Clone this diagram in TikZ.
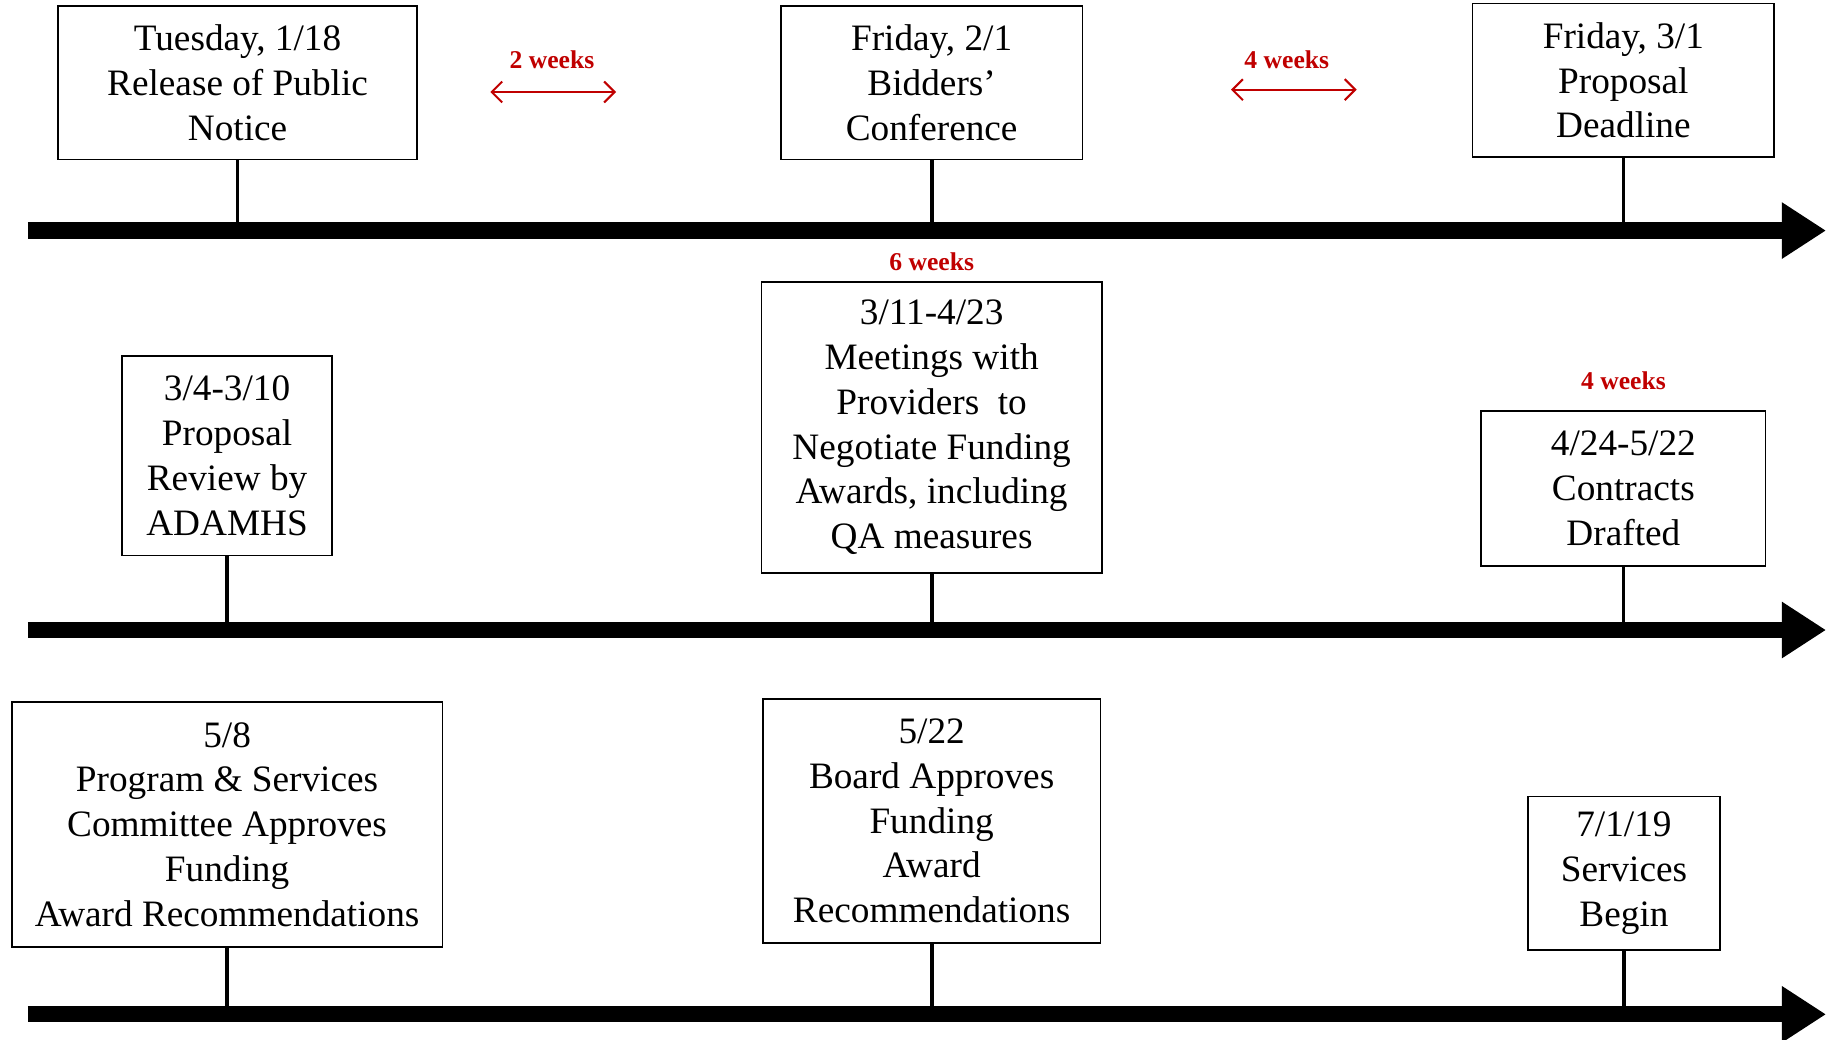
\documentclass[tikz,border=0pt]{standalone}
\usepackage{fontspec}
\setmainfont{Liberation Serif}
\usetikzlibrary{arrows.meta}
\definecolor{gapred}{HTML}{C00000}

\begin{document}
\begin{tikzpicture}[x=1pt,y=-1pt,
  event/.style={draw,line width=1.5pt,rectangle,inner sep=0pt,align=center,
    font=\fontsize{32}{38.5}\selectfont},
  stem/.style={line width=3.2pt},
  timeline/.style={line width=14pt,-{Triangle[length=38pt,width=46pt]}},
  gap/.style={gapred,line width=1.8pt,{Straight Barb[length=9pt,width=18pt]}-{Straight Barb[length=9pt,width=18pt]}},
  gaplabel/.style={text=gapred,inner sep=0pt,font=\fontsize{22}{26}\selectfont\bfseries}]
\useasboundingbox (0,0) rectangle (1568,893);
% boxes
\foreach \name/\at/\boxw/\boxh/\txt in {
    tue/{204,71}/308/132/{Tuesday, 1/18\\Release of Public\\Notice},
    bid/{800,71}/259/132/{Friday, 2/1\\Bidders’\\Conference},
    dead/{1394,69}/259/132/{Friday, 3/1\\Proposal\\Deadline},
    review/{195,391.5}/180/171/{3/4-3/10\\Proposal\\Review by\\ADAMHS},
    meet/{800,367}/292/250/{3/11-4/23\\Meetings with\\Providers\ \ to\\Negotiate Funding\\Awards, including\\QA measures},
    draft/{1394,419.5}/244/133/{4/24-5/22\\Contracts\\Drafted},
    comm/{195,708}/370/210/{5/8\\Program \& Services\\Committee Approves\\Funding\\Award Recommendations},
    board/{800,705}/290/210/{5/22\\Board Approves\\Funding\\Award\\Recommendations},
    begin/{1394.5,750}/165/132/{7/1/19\\Services\\Begin}%
}{
  \node[event,minimum width=\boxw,minimum height=\boxh] (\name) at (\at) {\txt};
}
% time axes
\foreach \row/\y in {A/198,B/541,C/871}{
  \coordinate (axis\row) at (24,\y);
  \coordinate (tip\row) at (1568,\y);
}
\foreach \name/\row in {tue/A,bid/A,dead/A,review/B,meet/B,draft/B,comm/C,board/C,begin/C}{
  \draw[stem] (\name.south) -- (\name.south |- axis\row);
}
\foreach \row in {A,B,C}{\draw[timeline] (axis\row) -- (tip\row);}
% durations
\node[gaplabel] (twowk) at (474,51) {2 weeks};
\node[gaplabel] (fourwk) at (1105,51) {4 weeks};
\node[gaplabel] (sixwk) at (800,225) {6 weeks};
\node[gaplabel] (fourwkb) at (1394,327) {4 weeks};
\coordinate (twowk-l) at (421,79);
\coordinate (twowk-r) at (529,79);
\coordinate (fourwk-l) at (1057,77);
\coordinate (fourwk-r) at (1165,77);
\draw[gap] (twowk-l) -- (twowk-r);
\draw[gap] (fourwk-l) -- (fourwk-r);
\end{tikzpicture}
\end{document}
